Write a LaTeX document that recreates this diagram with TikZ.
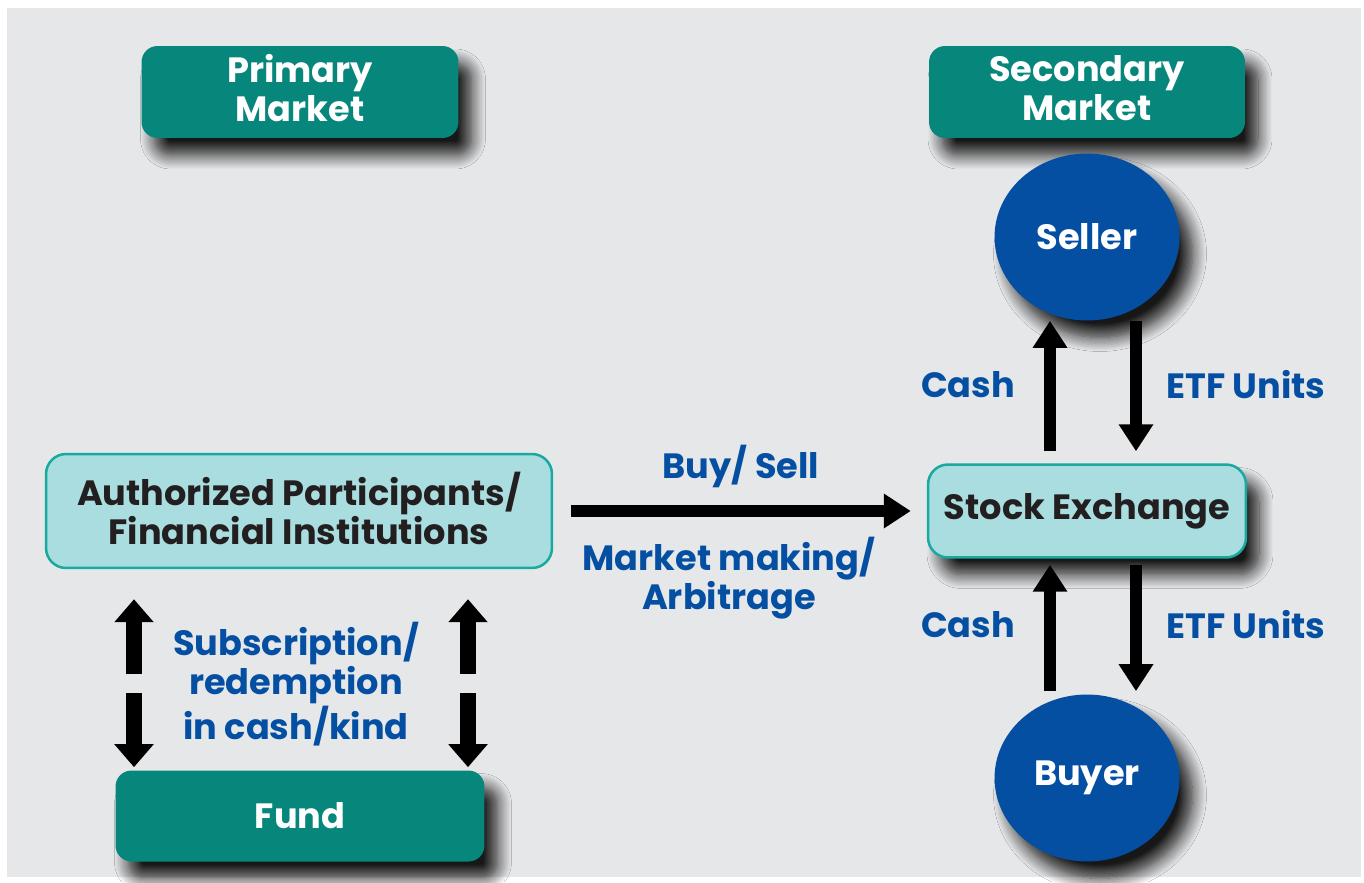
\documentclass[tikz,border=0pt]{standalone}
\usepackage{fontspec}
\setmainfont{Poppins}
\usetikzlibrary{arrows.meta}
\usetikzlibrary{shadows.blur}
\usetikzlibrary{shapes.geometric}
\usetikzlibrary{positioning}
\definecolor{bgray}{HTML}{E6E7E9}
\definecolor{mteal}{HTML}{07877C}
\definecolor{lteal}{HTML}{A9DDDF}
\definecolor{eteal}{HTML}{19A99E}
\definecolor{mblue}{HTML}{054FA3}
\definecolor{dtext}{HTML}{231F20}
\tikzset{bigfont/.style = {font=\fontsize{20}{22.3}\selectfont\bfseries}}
\tikzset{soft/.style = {blur shadow={shadow xshift=0.26cm, shadow yshift=-0.34cm,
                                    shadow blur radius=0.28cm, shadow blur steps=12,
                                    shadow opacity=90}}}
\tikzset{darkbox/.style = {bigfont, fill=mteal, text=white, rounded corners=0.32cm,
                           align=center, inner sep=0, soft}}
\tikzset{lightbox/.style = {bigfont, fill=lteal, draw=eteal, line width=0.05cm,
                            text=dtext, rounded corners=0.4cm, align=center, inner sep=0}}
\tikzset{party/.style = {bigfont, ellipse, fill=mblue, text=white, inner sep=0,
                         minimum width=3.7cm, minimum height=3.34cm, soft}}
\tikzset{lbl/.style = {bigfont, text=mblue, align=center}}
\tikzset{fat/.style = {line width=0.24cm, -{Triangle[width=0.66cm, length=0.54cm]}}}
\tikzset{fatter/.style = {line width=0.32cm, -{Triangle[width=0.76cm, length=0.46cm]}}}

\begin{document}
\begin{tikzpicture}[x=0.02cm, y=-0.02cm]
    \useasboundingbox (0, 0) rectangle (1364, 882);
    \fill [white] (0, 0) rectangle (1364, 882);
    \fill [bgray] (7, 8) rectangle (1361, 877);

    % headings
    \node [darkbox, minimum width=6.34cm, minimum height=1.84cm] (prim) at (300, 92)
      {Primary\\Market\rule[-0.15cm]{0pt}{0pt}};
    \node [darkbox, minimum width=6.32cm, minimum height=1.84cm] (sec) at (1087, 92)
      {Secondary\\Market\rule[-0.15cm]{0pt}{0pt}};

    % primary side
    \node [lightbox, minimum width=10.12cm, minimum height=2.28cm] (ap) at (299, 511)
      {Authorized Participants/\\Financial Institutions\rule[-0.1cm]{0pt}{0pt}};
    \node [darkbox, minimum width=7.38cm, minimum height=1.82cm] (fund) at (300, 816)
      {Fund};

    % secondary side
    \node [lightbox, soft, minimum width=6.36cm, minimum height=1.86cm] (sx) at (1087, 511)
      {Stock Exchange};
    \node [party] (seller) at (1087, 237) {Seller};
    \node [party] (buyer) at (1087, 778) {Buyer};

    \draw [fat, shorten <=0.36cm, shorten >=0.32cm] (ap.east) -- (sx.west);
    \node [lbl] (bs) at (741, 466) {Buy/ Sell};
    \node [lbl] (mm) at (729, 578) {Market making/\\Arbitrage};

    \draw [fat, shorten <=0.24cm] ([xshift=-0.74cm]sx.north) -- ([xshift=-0.74cm]seller.south);
    \draw [fat, shorten >=0.24cm] ([xshift=0.98cm]seller.south) -- ([xshift=0.98cm]sx.north);
    \draw [fat, shorten <=0.06cm, shorten >=0.12cm] ([xshift=-0.74cm]buyer.north) -- ([xshift=-0.74cm]sx.south);
    \draw [fat, shorten <=0.12cm, shorten >=0.06cm] ([xshift=0.98cm]sx.south) -- ([xshift=0.98cm]buyer.north);
    \node [lbl] (c1) at (968, 385) {Cash};
    \node [lbl] (e1) at (1246, 385) {ETF Units};
    \node [lbl] (c2) at (968, 625) {Cash};
    \node [lbl] (e2) at (1246, 625) {ETF Units};

    \coordinate (ml) at (134, 683);
    \coordinate (mr) at (468, 683);
    \foreach \c in {ml, mr} {
      \draw [fatter, shorten <=0.18cm, shorten >=0.6cm] (\c) -- (ap.south -| \c);
      \draw [fatter, shorten <=0.2cm, shorten >=0.06cm] (\c) -- (fund.north -| \c);
    }
    \node [lbl] (sub) at (296, 684) {Subscription/\\redemption\\in cash/kind};
\end{tikzpicture}
\end{document}
